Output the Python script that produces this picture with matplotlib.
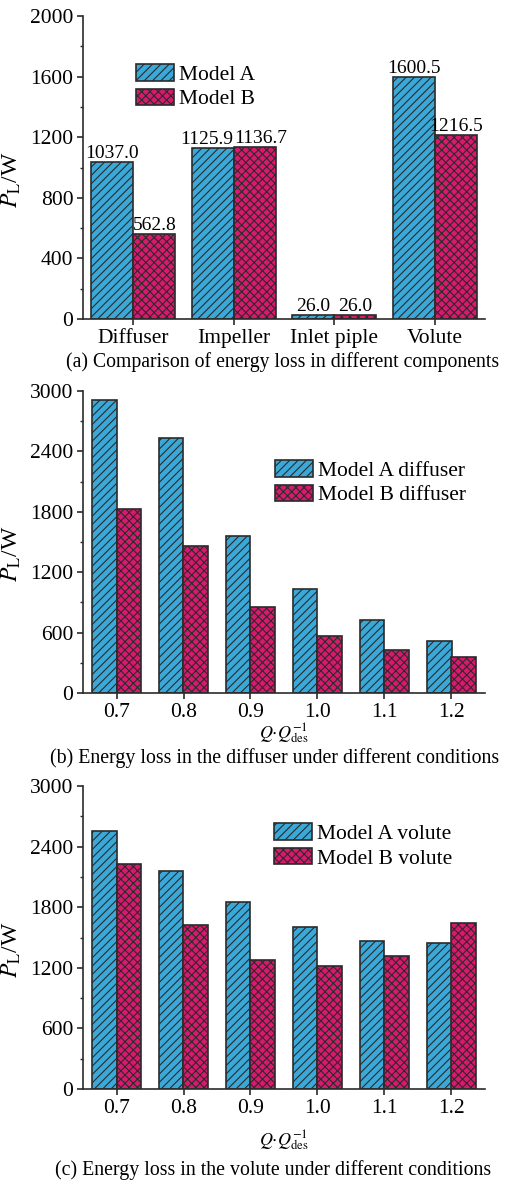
import numpy as np
import matplotlib
matplotlib.use("Agg")
import matplotlib.pyplot as plt
from matplotlib.ticker import MultipleLocator

plt.rcParams["font.family"] = ["Liberation Serif", "DejaVu Serif"]
plt.rcParams["mathtext.fontset"] = "stix"
plt.rcParams["font.size"] = 15
plt.rcParams["hatch.linewidth"] = 0.8

# (a) components
COMPONENTS = ["Diffuser", "Impeller", "Inlet piple", "Volute"]
COMP_A = [1037.0, 1125.9, 26.0, 1600.5]
COMP_B = [562.8, 1136.7, 26.0, 1216.5]

# (b), (c) flow conditions
CONDITIONS = ["0.7", "0.8", "0.9", "1.0", "1.1", "1.2"]
DIFF_A = [2915, 2533, 1556, 1037, 728, 517]
DIFF_B = [1828, 1464, 851, 563, 424, 354]
VOL_A = [2558, 2163, 1849, 1600, 1464, 1444]
VOL_B = [2232, 1619, 1279, 1216, 1312, 1642]

BLUE = "#3aa8d8"
PINK = "#d8196e"
EDGE = "#2b2b2b"
FS = 15.5

W, H = 510, 1182
fig = plt.figure(figsize=(W / 100, H / 100), dpi=100)


def px_axes(left, right, top, bottom):
    return fig.add_axes([left / W, 1 - bottom / H, (right - left) / W, (bottom - top) / H])


def style_axes(ax, ymax, major, minor):
    ax.spines["top"].set_visible(False)
    ax.spines["right"].set_visible(False)
    for s in ("left", "bottom"):
        ax.spines[s].set_linewidth(1.2)
        ax.spines[s].set_color(EDGE)
    ax.set_ylim(0, ymax)
    ax.yaxis.set_major_locator(MultipleLocator(major))
    ax.yaxis.set_minor_locator(MultipleLocator(minor))
    ax.tick_params(axis="both", which="major", direction="out", length=4, width=1.2, pad=3,
                   labelsize=FS, color=EDGE)
    ax.tick_params(axis="y", which="minor", direction="out", length=2.5, width=1.0, color=EDGE)
    ax.tick_params(axis="x", which="minor", bottom=False)
    ax.set_ylabel(r"$P_{\mathrm{L}}$/W", fontsize=17)
    ax.yaxis.set_label_coords(-0.15, 0.46)


def draw_bars(ax, cats, a, b, width, labels):
    x = np.arange(len(cats))
    ba = ax.bar(x - width / 2, a, width, color=BLUE, edgecolor=EDGE, linewidth=1.2,
                hatch="////", label=labels[0])
    bb = ax.bar(x + width / 2, b, width, color=PINK, edgecolor=EDGE, linewidth=1.2,
                hatch="xxxx", label=labels[1])
    ax.set_xticks(x)
    ax.set_xticklabels(cats)
    ax.set_xlim(-0.5, len(cats) - 0.5)
    return ba, bb


def add_legend(ax, fx, fy):
    ax.legend(loc="upper left", bbox_to_anchor=(fx, fy), frameon=False, borderpad=0,
              handlelength=1.78, handleheight=0.82, handletextpad=0.2,
              labelspacing=0.18, fontsize=FS, borderaxespad=0)


# (a)
ax1 = px_axes(83, 485, 16, 319)
ba, bb = draw_bars(ax1, COMPONENTS, COMP_A, COMP_B, 0.42, ["Model A", "Model B"])
style_axes(ax1, 2000, 400, 200)
la = ax1.bar_label(ba, fmt="%.1f", padding=0, fontsize=14)
lb = ax1.bar_label(bb, fmt="%.1f", padding=0, fontsize=14)
# impeller labels sit side by side, push them apart a little
la[1].xyann = (-4, 0)
lb[1].xyann = (4, 0)
add_legend(ax1, 0.132, 0.842)
fig.text(66 / W, 1 - 362 / H, "(a) Comparison of energy loss in different components",
         fontsize=14.2, va="center", ha="left")

xlab = r"$Q{\cdot}Q_{\mathrm{des}}^{-1}$"

# (b)
ax2 = px_axes(83, 485, 391, 693)
draw_bars(ax2, CONDITIONS, DIFF_A, DIFF_B, 0.36, ["Model A diffuser", "Model B diffuser"])
style_axes(ax2, 3000, 600, 300)
add_legend(ax2, 0.478, 0.772)
ax2.set_xlabel(xlab, fontsize=13)
ax2.xaxis.set_label_coords(0.5, -0.095)
fig.text(50 / W, 1 - 758 / H, "(b) Energy loss in the diffuser under different conditions",
         fontsize=14.3, va="center", ha="left")

# (c)
ax3 = px_axes(83, 485, 786, 1089)
draw_bars(ax3, CONDITIONS, VOL_A, VOL_B, 0.36, ["Model A volute", "Model B volute"])
style_axes(ax3, 3000, 600, 300)
add_legend(ax3, 0.475, 0.878)
ax3.set_xlabel(xlab, fontsize=13)
ax3.xaxis.set_label_coords(0.5, -0.13)
fig.text(55 / W, 1 - 1170 / H, "(c) Energy loss in the volute under different conditions",
         fontsize=14.3, va="center", ha="left")

fig.savefig("out.png", dpi=100)
